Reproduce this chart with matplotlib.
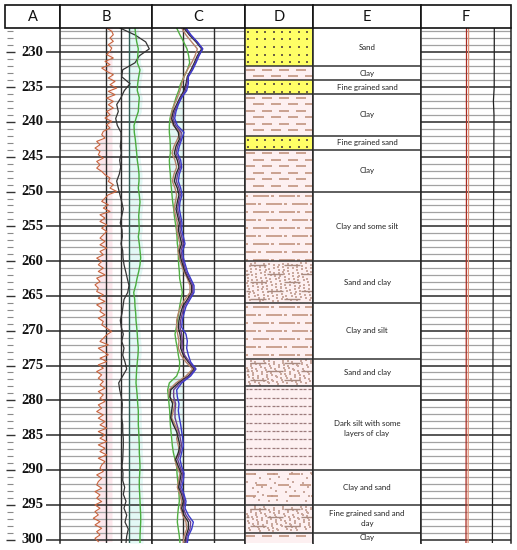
import numpy as np
import matplotlib.pyplot as plt
from matplotlib.collections import LineCollection
from matplotlib.patches import Rectangle

# ---------------- data ----------------
depth_labels = [230, 235, 240, 245, 250, 255, 260, 265, 270, 275, 280, 285, 290, 295, 300]
top_depth, base_depth = 226.5, 300.5

# track B (arbitrary units, 0..92)
b_red_depth = np.linspace(226.5, 300.3, 155)
b_red = [46.7, 51.7, 53.3, 50, 53.3, 48.3, 51.7, 50, 46.7, 53.3,
         45, 50, 41.7, 46.7, 53.3, 48.3, 55, 50, 56.7, 48.3,
         55, 46.7, 53.3, 48.3, 53.3, 46.7, 50, 45, 51.7, 46.7,
         50, 43.3, 41.7, 45, 36.7, 40, 35, 40, 38.3, 43.3,
         36.7, 40, 36.7, 41.7, 45, 50, 48.3, 53.3, 50, 56.7,
         48.3, 45, 41.7, 48.3, 43.3, 50, 40, 45, 40, 46.7,
         41.7, 46.7, 43.3, 40, 45, 40, 46.7, 40, 43.3, 36.7,
         41.7, 38.3, 43.3, 38.3, 45, 36.7, 40, 35, 38.3,
         36.7, 43.3, 38.3, 45, 36.7, 41.7, 40, 45, 38.3, 43.3,
         41.7, 46.7, 51.7, 46.7, 43.3, 40, 48.3, 38.3, 43.3, 48.3,
         40, 46.7, 38.3, 43.3, 36.7, 41.7, 38.3, 43.3, 40, 45,
         38.3, 43.3, 40, 45, 38.3, 41.7, 36.7, 43.3, 38.3, 45,
         40, 46.7, 38.3, 45, 40, 46.7, 38.3, 45, 40, 46.7,
         38.3, 45, 41.7, 40, 43.3, 36.7, 41.7, 38.3, 36.7, 41.7,
         35, 40, 36.7, 41.7, 35, 40, 35, 38.3, 33.3, 40,
         35, 41.7, 36.7, 40, 35, 38.3]

curve_depth = np.arange(226.5, 301.0, 1.0)
b_black = [60, 75, 85.7, 89.3, 79.3, 75, 62.7, 61.7, 70, 64.3,
           61, 56.7, 58.3, 55.7, 57.3, 61, 61, 60.3, 61.3, 59.7,
           60.7, 59.3, 56.7, 58.3, 60, 61.7, 63.3, 61.7, 60.3, 62,
           62.3, 61, 62.7, 63, 64, 65.7, 67.3, 69, 67.7, 64,
           63, 62, 60.3, 61.3, 63.3, 61.7, 64, 62.7, 65, 66.7,
           62.7, 58.7, 59.7, 61.3, 62.3, 62, 61.7, 62.7, 62.7, 63.3,
           63.3, 63, 62.7, 62, 63, 62.7, 64.7, 63.3, 66, 64,
           66.7, 65, 68.3, 66.7, 66]
b_green = [75, 75.7, 76.7, 78.3, 77.7, 77.3, 80, 78.7, 77.7, 77.3,
           79.3, 78.7, 78.3, 76, 74, 74.3, 75.3, 76, 76.7, 77.3,
           78.3, 79, 79, 78.3, 79.3, 80, 79.3, 78.7, 79, 79.3,
           78.3, 79.3, 80, 80.7, 80, 78.7, 77, 75.7, 73.7, 74.7,
           75, 75.7, 76, 76.7, 77.3, 77.7, 78.3, 78, 77.3, 76.7,
           76.3, 76, 76.7, 77.3, 77.7, 78.3, 78.3, 78.3, 78.7, 79,
           79.3, 79.3, 79.7, 80, 79.7, 79.3, 79.3, 79.7, 80, 80.3,
           80.7, 80.7, 80.3, 80, 80]

# track C (arbitrary units, 216..495)
c_green = [290, 300, 311, 321, 326, 329, 322, 312, 302, 296, 288, 282, 275, 270, 268,
           268, 270, 271, 271, 268, 269, 271, 272, 274, 276, 278, 281, 283, 286, 289,
           291, 292, 295, 295, 296, 298, 299, 303, 307, 303, 299, 296, 292, 289, 285,
           288, 292, 295, 299, 298, 290, 268, 263, 265, 267, 269, 270, 271, 273, 275,
           277, 280, 285, 290, 291, 293, 295, 297, 298, 295, 293, 292, 295, 298, 300]
c_brown = [305, 318, 335, 352, 345, 335, 322, 312, 305, 300, 292, 283, 276, 272, 280,
           300, 292, 282, 276, 285, 290, 282, 277, 285, 290, 286, 282, 287, 292, 290,
           295, 300, 294, 298, 304, 312, 322, 330, 330, 315, 302, 295, 290, 290, 293,
           297, 295, 303, 318, 338, 318, 288, 267, 268, 285, 280, 275, 285, 295, 290,
           295, 300, 285, 290, 300, 296, 292, 300, 305, 302, 308, 318, 320, 312, 310]
c_black = [312, 328, 348, 365, 352, 343, 333, 322, 318, 312, 300, 290, 280, 275, 282,
           295, 298, 288, 283, 292, 297, 288, 283, 292, 297, 292, 288, 293, 298, 295,
           300, 305, 298, 302, 308, 315, 325, 335, 335, 322, 308, 302, 297, 295, 300,
           303, 302, 310, 325, 343, 325, 295, 272, 270, 278, 275, 272, 280, 290, 295,
           300, 295, 287, 295, 304, 300, 296, 305, 310, 305, 312, 325, 325, 318, 315]
c_purple = [316, 331, 351, 368, 355, 346, 336, 324, 321, 316, 303, 293, 284, 279, 287,
            304, 302, 293, 288, 297, 301, 293, 289, 297, 301, 296, 293, 297, 302, 300,
            305, 310, 303, 306, 312, 318, 328, 338, 338, 326, 313, 307, 302, 300, 305,
            307, 306, 314, 328, 346, 328, 300, 281, 281, 287, 285, 285, 291, 297, 301,
            305, 300, 293, 300, 308, 305, 300, 308, 314, 310, 318, 332, 330, 321, 318]
c_blue = [318, 333, 352, 368, 357, 348, 338, 325, 325, 320, 305, 295, 288, 284, 292,
          312, 305, 298, 293, 302, 305, 298, 295, 302, 306, 300, 298, 302, 306, 305,
          310, 315, 308, 310, 316, 322, 332, 342, 342, 330, 318, 312, 307, 305, 318,
          322, 320, 325, 332, 348, 332, 305, 290, 292, 297, 295, 298, 302, 305, 308,
          310, 305, 300, 305, 312, 310, 305, 312, 318, 315, 325, 340, 335, 325, 322]

# track F (arbitrary units, 0..90)
f_depth = [226.5, 235, 237, 239, 245, 260, 280, 300.5]
f_red = [45.5, 45.5, 45.4, 45.5, 45.5, 45.3, 45.2, 45.0]
f_orange = [47.6, 47.6, 47.5, 47.6, 47.6, 47.4, 47.3, 47.1]
f_black = [73.3, 73.2, 72.4, 73.0, 72.8, 72.3, 71.8, 71.4]

# lithology
layer_top = [226.5, 232.0, 234.0, 236.0, 242.0, 244.0, 250.0, 260.0, 266.0, 274.0,
             278.0, 290.0, 295.0, 299.0]
layer_base = layer_top[1:] + [base_depth]
layer_text = ["Sand", "Clay", "Fine grained sand", "Clay", "Fine grained sand", "Clay",
              "Clay and some silt", "Sand and clay", "Clay and silt", "Sand and clay",
              "Dark silt with some\nlayers of clay", "Clay and sand",
              "Fine grained sand and\nclay", "Clay"]
layer_litho = ["sand", "clay", "sand", "clay", "sand", "clay", "clay_silt", "sand_clay",
               "clay_silt", "sand_clay", "dark_silt", "clay_sand", "sand_clay", "clay"]

headers = ["A", "B", "C", "D", "E", "F"]

# ---------------- layout ----------------
W, H = 517, 550
col_x = [5, 60, 152, 245, 313, 421, 511]
head_top, body_top, body_bot = 5, 28, 543
PX = 1 / 6.957  # metres per pixel

fig = plt.figure(figsize=(W / 100, H / 100), dpi=100)
fig.patch.set_facecolor("white")


def body_axes(i, xlim):
    x0, x1 = col_x[i], col_x[i + 1]
    ax = fig.add_axes([x0 / W, 1 - body_bot / H, (x1 - x0) / W, (body_bot - body_top) / H])
    ax.set_xlim(*xlim)
    ax.set_ylim(base_depth, top_depth)
    ax.set_xticks([])
    ax.set_yticks([])
    for s in ax.spines.values():
        s.set_visible(False)
    if i > 0:
        for side in ("left", "right"):
            ax.spines[side].set_visible(True)
            ax.spines[side].set_color("#222222")
            ax.spines[side].set_linewidth(1.1)
    return ax


minor = np.arange(227, 301)
major = [d for d in minor if d % 5 == 0]
minor = [d for d in minor if d % 5 != 0]


def depth_grid(ax):
    lo, hi = ax.get_xlim()
    ax.hlines(minor, lo, hi, colors="#a2a2a2", linewidth=0.9, zorder=1)
    ax.hlines(major, lo, hi, colors="#2a2a2a", linewidth=1.1, zorder=1)


# A: depth ruler
axA = body_axes(0, (0, 55))
axA.hlines(minor, 2, 8, colors="#8a8a8a", linewidth=0.8)
axA.hlines(major, 1, 10, colors="#333333", linewidth=1.0)
axA.hlines(major, 41, 55, colors="#2a2a2a", linewidth=1.1)
for d in depth_labels:
    axA.text(27.5, d, str(d), ha="center", va="center", fontsize=10.5,
             fontweight="bold", family="Liberation Serif", color="#111111")

# B
axB = body_axes(1, (0, 92))
depth_grid(axB)
for xv, c in [(45.7, "#2a2a2a"), (61, "#2a2a2a"), (69.3, "#2f5f55")]:
    axB.axvline(xv, color=c, linewidth=1.0, zorder=1)
axB.fill_betweenx(b_red_depth, b_red, 52, color="#fbdde4", alpha=0.7, linewidth=0, zorder=0.5)
axB.fill_betweenx(curve_depth, 69.3, np.array(b_green) + 3, color="#dcf7f3", alpha=0.8,
                  linewidth=0, zorder=0.5)
axB.plot(b_red, b_red_depth, color="#c8643e", linewidth=0.8, zorder=3)
axB.plot(b_black, curve_depth, color="#333333", linewidth=0.9, zorder=3)
axB.plot(b_green, curve_depth, color="#49ad3f", linewidth=1.0, zorder=3)

# C
axC = body_axes(2, (216, 495))
depth_grid(axC)
for xv in (309, 402):
    axC.axvline(xv, color="#2a2a2a", linewidth=1.0, zorder=1)
cd = np.array(curve_depth)
axC.fill_betweenx(cd, c_green, 309, where=(cd > 234) & (cd < 262), color="#dcf7f3",
                  alpha=0.8, linewidth=0, zorder=0.5)
axC.fill_betweenx(cd, c_green, 309, where=(cd > 276) & (cd < 296), color="#dcf7f3",
                  alpha=0.8, linewidth=0, zorder=0.5)
axC.plot(c_green, curve_depth, color="#52b043", linewidth=1.0, zorder=3)
axC.plot(c_brown, curve_depth, color="#b8826a", linewidth=1.0, zorder=3)
axC.plot(c_black, curve_depth, color="#2b2b2b", linewidth=1.0, zorder=3)
axC.plot(c_purple, curve_depth, color="#6b3f8e", linewidth=1.0, zorder=3)
axC.plot(c_blue, curve_depth, color="#3a3acb", linewidth=1.0, zorder=3)

# D: lithology column
DW = 68
axD = body_axes(3, (0, DW))
axE = body_axes(4, (0, 108))


def dash_field(ax, top, bot, step, first, period, pieces, shift, color, lw):
    segs = []
    y = top + first * PX
    r = 0
    while y < bot - 1.5 * PX:
        base = -period + (r % 2) * shift
        while base < DW:
            for s, L in pieces:
                a, b = max(base + s, 1.0), min(base + s + L, DW - 1.0)
                if b - a > 0.8:
                    segs.append([(a, y), (b, y)])
            base += period
        y += step * PX
        r += 1
    ax.add_collection(LineCollection(segs, colors=color, linewidths=lw, zorder=2))


def stipple(ax, top, bot, density, color, size, k0):
    n = int((bot - top) / PX * DW * density)
    i = np.arange(n) + k0
    xs = 1.5 + (DW - 3) * ((i * 0.7548776662) % 1)
    ys = top + 0.25 + (bot - top - 0.5) * ((i * 0.5698402910) % 1)
    ax.scatter(xs, ys, s=size, c=color, marker="s", linewidths=0, zorder=2)


pink = "#fdf0f1"
dash_col = "#c29480"
for k, (t, b, lit) in enumerate(zip(layer_top, layer_base, layer_litho)):
    if lit == "sand":
        axD.add_patch(Rectangle((0, t), DW, b - t, facecolor="#ffff66", edgecolor="none", zorder=0))
        ys = np.arange(t + 0.55, b - 0.2, 1.1)
        xs = 3.3 + 8.4 * np.arange(8)
        X, Y = np.meshgrid(xs, ys)
        axD.scatter(X.ravel(), Y.ravel(), s=1.6, c="#6d6244", marker="s", linewidths=0, zorder=2)
        continue
    axD.add_patch(Rectangle((0, t), DW, b - t, facecolor=pink, edgecolor="none", zorder=0))
    if lit == "clay":
        dash_field(axD, t, b, 6.5, 3.5, 17, [(0, 10)], 8.5, dash_col, 1.2)
    elif lit == "clay_silt":
        dash_field(axD, t, b, 8.0, 4.0, 26, [(0, 3), (8, 16)], 13, dash_col, 1.2)
    elif lit == "sand_clay":
        stipple(axD, t, b, 0.06, "#c9a89e", 0.6, 7 * k)
        dash_field(axD, t, b, 8.5, 4.0, 34, [(5, 16)], 17, "#a88a80", 1.0)
    elif lit == "dark_silt":
        dash_field(axD, t, b, 8.3, 3.0, 9, [(0, 2.6), (4.0, 2.6)], 0, "#9c7c7c", 0.9)
    elif lit == "clay_sand":
        stipple(axD, t, b, 0.015, "#c9a89e", 0.6, 11 * k)
        dash_field(axD, t, b, 11, 4.0, 22, [(0, 11)], 11, dash_col, 1.2)

# bed boundaries and descriptions
axD.hlines(layer_top[1:], 0, DW, colors="#333333", linewidth=1.1, zorder=3)
axE.hlines(layer_top[1:], 0, 108, colors="#333333", linewidth=1.1, zorder=3)
for t, b, txt in zip(layer_top, layer_base, layer_text):
    axE.text(54, (t + b) / 2, txt, ha="center", va="center", fontsize=5.7,
             family="Lato", color="#222222", linespacing=1.5)

# F
axF = body_axes(5, (0, 90))
depth_grid(axF)
axF.plot(f_red, f_depth, color="#a82a22", linewidth=0.9, zorder=3)
axF.plot(f_orange, f_depth, color="#e39277", linewidth=0.9, zorder=3)
axF.plot(f_black, f_depth, color="#222222", linewidth=0.9, zorder=3)

# header row
axH = fig.add_axes([col_x[0] / W, 1 - body_top / H, (col_x[-1] - col_x[0]) / W,
                    (body_top - head_top) / H])
axH.set_xlim(col_x[0], col_x[-1])
axH.set_ylim(body_top, head_top)
axH.axis("off")
for i, name in enumerate(headers):
    x0, x1 = col_x[i], col_x[i + 1]
    axH.add_patch(Rectangle((x0, head_top), x1 - x0, body_top - head_top, facecolor="white",
                            edgecolor="#111111", linewidth=1.2, clip_on=False))
    axH.text((x0 + x1) / 2, (head_top + body_top) / 2 + 0.5, name, ha="center", va="center",
             fontsize=10.5, family="Lato", color="#111111")

fig.savefig("out.png", dpi=100, facecolor="white")
